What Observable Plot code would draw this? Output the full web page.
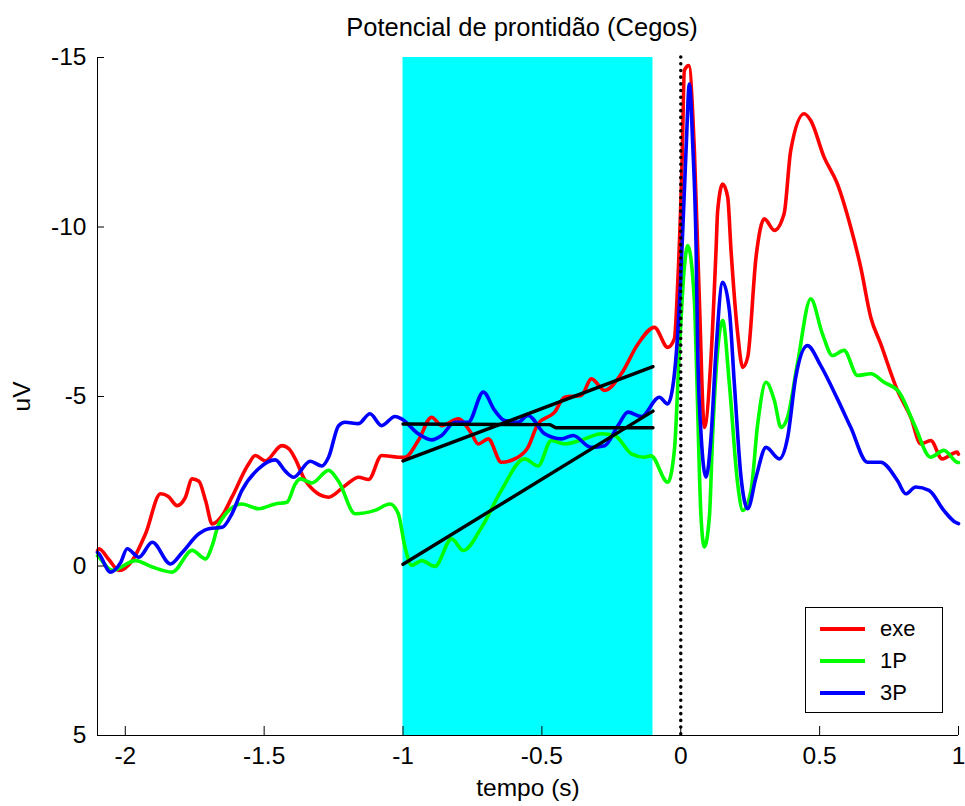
<!DOCTYPE html>
<html>
<head>
<meta charset="utf-8">
<script src="https://cdn.jsdelivr.net/npm/d3@7"></script>
<script src="https://cdn.jsdelivr.net/npm/@observablehq/plot@0.6"></script>
<style>
  body { margin: 0; background: #fff; }
  #wrap { position: relative; width: 965px; height: 806px; font-family: "Liberation Sans", Arial, sans-serif; }
  #legend { position: absolute; left: 805px; top: 607px; width: 138px; height: 106px; border: 1px solid #000; background: #fff; box-sizing: border-box; }
  .item { position: absolute; left: 0; height: 30px; display: flex; align-items: center; font-size: 22px; }
  .item span.sw { display: inline-block; width: 45px; height: 3.5px; margin-left: 14px; margin-right: 15px; }
</style>
</head>
<body>
<div id="wrap"></div>
<script>
const titleText = "Potencial de prontidão (Cegos)";
const xLabel = "tempo (s)";
const yLabel = "uV";
const xDomain = [-2.1, 1];
const yDomain = [-15, 5];
const xTicks = [-2, -1.5, -1, -0.5, 0, 0.5, 1];
const yTicks = [-15, -10, -5, 0, 5];
const seriesNames = ["exe", "1P", "3P"];
const seriesColors = ["#ff0000", "#00ff00", "#0000ff"];
const windowStart = -1;
const windowEnd = -0.1;
const eventTime = 0;

const exe = [
[-2.1,-0.45],[-2.095,-0.51],[-2.06,-0.2],[-2.023,0.13],[-1.975,-0.16],[-1.927,-0.95],[-1.873,-2.13],[-1.845,-2.05],
[-1.813,-1.78],[-1.785,-2.0],[-1.759,-2.57],[-1.735,-2.5],[-1.71,-1.9],[-1.687,-1.24],[-1.65,-1.5],[-1.616,-2.03],
[-1.556,-3.01],[-1.532,-3.26],[-1.496,-3.1],[-1.436,-3.55],[-1.41,-3.45],[-1.388,-3.16],[-1.352,-2.52],[-1.268,-2.03],
[-1.209,-2.37],[-1.160,-2.62],[-1.124,-2.55],[-1.077,-3.26],[-1.017,-3.21],[-0.993,-3.21],[-0.945,-3.70],[-0.897,-4.39],
[-0.861,-4.14],[-0.801,-4.34],[-0.753,-3.90],[-0.729,-3.60],[-0.693,-3.75],[-0.646,-3.06],[-0.598,-3.16],[-0.550,-3.50],
[-0.514,-4.19],[-0.454,-4.54],[-0.418,-4.98],[-0.358,-5.03],[-0.322,-5.52],[-0.274,-5.18],[-0.214,-5.67],[-0.154,-6.55],
[-0.095,-7.04],[-0.047,-6.45],[-0.023,-6.7],[-0.011,-8.32],[0.005,-12.0],[0.013,-14.62],[0.029,-14.76],[0.049,-12.26],
[0.067,-7.83],[0.085,-4.09],[0.109,-6.16],[0.127,-9.31],[0.133,-10.49],[0.151,-11.27],[0.169,-10.88],[0.181,-9.31],
[0.205,-6.85],[0.223,-5.86],[0.241,-6.16],[0.271,-9.11],[0.301,-10.24],[0.337,-9.90],[0.372,-10.39],[0.396,-12.26],
[0.444,-13.34],[0.468,-13.14],[0.516,-12.06],[0.564,-11.27],[0.612,-9.99],[0.648,-8.81],[0.684,-7.34],[0.720,-6.55],
[0.780,-5.18],[0.828,-4.39],[0.864,-3.60],[0.900,-3.70],[0.941,-3.16],[0.995,-3.36],[1.0,-3.3]
];
const p1 = [
[-2.1,-0.3],[-2.095,-0.26],[-2.047,0.13],[-1.963,-0.16],[-1.903,0.03],[-1.831,0.18],[-1.759,-0.46],[-1.711,-0.21],
[-1.687,-0.6],[-1.663,-1.24],[-1.580,-1.83],[-1.520,-1.69],[-1.460,-1.83],[-1.418,-1.88],[-1.388,-2.42],[-1.370,-2.57],
[-1.328,-2.45],[-1.268,-2.82],[-1.232,-2.5],[-1.172,-1.54],[-1.101,-1.64],[-1.047,-1.83],[-1.017,-1.54],[-0.993,-0.56],
[-0.969,-0.02],[-0.933,-0.16],[-0.885,0.01],[-0.825,-0.80],[-0.783,-0.46],[-0.717,-1.14],[-0.646,-2.23],[-0.562,-3.16],
[-0.514,-2.95],[-0.466,-3.70],[-0.418,-3.6],[-0.346,-3.75],[-0.286,-3.90],[-0.238,-3.85],[-0.178,-3.31],[-0.131,-3.21],
[-0.107,-3.25],[-0.047,-2.47],[-0.023,-3.41],[-0.005,-6.36],[0.013,-8.81],[0.025,-9.45],[0.049,-7.83],[0.055,-6.36],
[0.073,-1.44],[0.085,-0.56],[0.103,-1.44],[0.115,-3.90],[0.151,-7.24],[0.175,-5.37],[0.205,-2.42],[0.223,-1.64],
[0.253,-2.23],[0.277,-4.19],[0.307,-5.42],[0.337,-4.88],[0.361,-4.09],[0.385,-4.4],[0.420,-5.96],[0.468,-7.88],
[0.510,-6.85],[0.546,-6.21],[0.588,-6.36],[0.636,-5.62],[0.684,-5.67],[0.732,-5.42],[0.786,-5.13],[0.840,-4.19],
[0.900,-3.21],[0.947,-3.41],[0.995,-3.06],[1.0,-3.05]
];
const p3 = [
[-2.1,-0.4],[-2.095,-0.36],[-2.053,0.18],[-2.017,-0.1],[-1.993,-0.51],[-1.951,-0.26],[-1.903,-0.70],[-1.837,-0.06],
[-1.795,-0.4],[-1.735,-0.95],[-1.699,-1.10],[-1.651,-1.14],[-1.616,-1.54],[-1.580,-2.23],[-1.520,-2.87],[-1.460,-3.13],
[-1.424,-2.8],[-1.394,-2.62],[-1.334,-3.09],[-1.292,-2.95],[-1.268,-3.21],[-1.232,-4.14],[-1.209,-4.24],[-1.160,-4.2],
[-1.119,-4.49],[-1.077,-4.14],[-1.029,-4.41],[-1.005,-4.34],[-0.945,-3.90],[-0.897,-3.72],[-0.861,-3.85],[-0.813,-4.24],
[-0.765,-4.24],[-0.711,-5.13],[-0.670,-4.59],[-0.634,-4.29],[-0.586,-4.24],[-0.550,-4.44],[-0.490,-3.90],[-0.430,-3.75],
[-0.388,-3.85],[-0.322,-3.50],[-0.274,-3.55],[-0.226,-4.14],[-0.190,-4.54],[-0.142,-4.41],[-0.077,-4.98],[-0.047,-4.78],
[-0.029,-5.27],[-0.011,-6.85],[-0.001,-8.32],[0.019,-12.26],[0.031,-14.22],[0.043,-12.45],[0.055,-9.50],[0.061,-6.36],
[0.073,-3.90],[0.091,-2.62],[0.109,-3.80],[0.127,-6.36],[0.151,-8.37],[0.175,-7.54],[0.193,-5.37],[0.217,-2.62],
[0.241,-1.69],[0.271,-2.62],[0.307,-3.50],[0.355,-3.16],[0.385,-3.80],[0.414,-5.57],[0.456,-6.50],[0.504,-5.91],
[0.564,-4.93],[0.612,-4.09],[0.672,-3.06],[0.720,-3.06],[0.780,-2.52],[0.810,-2.13],[0.846,-2.33],[0.894,-2.23],
[0.947,-1.64],[0.989,-1.29],[1.0,-1.25]
];
const fitFlat = [[-1,-4.19],[-0.47,-4.17],[-0.45,-4.08],[-0.1,-4.08]];
const fitExe = [[-1,-3.1],[-0.1,-5.88]];
const fit1P = [[-1,-0.05],[-0.1,-4.57]];

const seriesData = [exe, p1, p3];
const fmt = d => String(d);
const font = '"Liberation Sans", Arial, sans-serif';

const lineMarks = seriesData.map((s, i) =>
  Plot.line(s, {x: d => d[0], y: d => d[1], stroke: seriesColors[i], strokeWidth: 3.6, strokeLinejoin: "round", curve: "monotone-x"}));
const fitMarks = [fitFlat, fitExe, fit1P].map(s =>
  Plot.line(s, {x: d => d[0], y: d => d[1], stroke: "#000", strokeWidth: 3.4}));

const chart = Plot.plot({
  width: 965,
  height: 806,
  marginTop: 57,
  marginBottom: 71,
  marginLeft: 97,
  marginRight: 7,
  style: {fontFamily: font, fontSize: "24px", color: "#000", background: "#fff"},
  x: {domain: xDomain},
  y: {domain: yDomain, reverse: true},
  marks: [
    Plot.rect([{a: windowStart, b: windowEnd}], {x1: "a", x2: "b", fill: "#00ffff"}),
    ...lineMarks,
    ...fitMarks,
    Plot.ruleX([eventTime], {stroke: "#000", strokeWidth: 3.5, strokeDasharray: "0.1,6.6", strokeLinecap: "round"}),
    Plot.ruleX([xDomain[0]], {stroke: "#000", strokeWidth: 1}),
    Plot.ruleY([yDomain[1]], {stroke: "#000", strokeWidth: 1}),
    Plot.axisX({ticks: xTicks, tickFormat: fmt, tickSize: -9, tickPadding: 20, label: null, fontSize: 24.5}),
    Plot.axisY({ticks: yTicks, tickFormat: fmt, tickSize: -7, tickPadding: 18, label: null, fontSize: 24.5}),
    Plot.text([titleText], {frameAnchor: "top", lineAnchor: "middle", dy: -30, dx: -6, fontSize: 25.5, text: d => d}),
    Plot.text([xLabel], {frameAnchor: "bottom", lineAnchor: "middle", dy: 53, fontSize: 24.5, text: d => d}),
    Plot.text([yLabel], {frameAnchor: "left", textAnchor: "middle", lineAnchor: "middle", dx: -75, rotate: -90, fontSize: 24.5, text: d => d})
  ]
});

const wrap = document.getElementById("wrap");
wrap.appendChild(chart);

const legend = document.createElement("div");
legend.id = "legend";
seriesNames.forEach((name, i) => {
  const item = document.createElement("div");
  item.className = "item";
  item.style.top = (6 + i * 32) + "px";
  const sw = document.createElement("span");
  sw.className = "sw";
  sw.style.background = seriesColors[i];
  const lab = document.createElement("span");
  lab.textContent = name;
  item.appendChild(sw);
  item.appendChild(lab);
  legend.appendChild(item);
});
wrap.appendChild(legend);
</script>
</body>
</html>
